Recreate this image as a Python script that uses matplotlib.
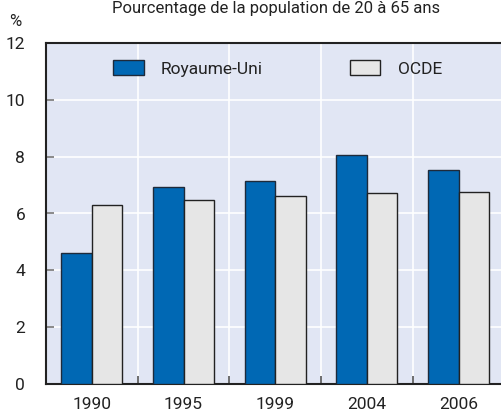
import matplotlib
matplotlib.use("Agg")
import matplotlib.pyplot as plt
import numpy as np

plt.rcParams['font.family'] = ['Roboto', 'DejaVu Sans']

# Data
years = ["1990", "1995", "1999", "2004", "2006"]
royaume_uni = [4.6, 6.93, 7.15, 8.06, 7.53]
ocde = [6.3, 6.47, 6.62, 6.72, 6.76]
y_ticks = [0, 2, 4, 6, 8, 10, 12]

W, H = 501, 411
fig = plt.figure(figsize=(W / 100, H / 100), dpi=100)
# axes extends slightly beyond the right edge, like the original
ax = fig.add_axes([46 / W, 1 - 384 / H, (504.5 - 46) / W, (384 - 43) / H])
ax.set_facecolor("#e1e6f4")

x = np.arange(len(years))
bw = 0.333
ax.bar(x - bw / 2, royaume_uni, bw, color="#0068b4", edgecolor="#1e2a3a",
       linewidth=1.0, label="Royaume-Uni", zorder=3)
ax.bar(x + bw / 2, ocde, bw, color="#e6e6e6", edgecolor="#222222",
       linewidth=1.0, label="OCDE", zorder=3)

ax.set_xlim(-0.5, len(years) - 0.5)
ax.set_ylim(0, 12)
ax.set_yticks(y_ticks)
ax.set_xticks(x)
ax.set_xticklabels(years)
ax.set_xticks(np.arange(len(years) + 1) - 0.5, minor=True)

ax.grid(True, axis="y", color="white", linewidth=1.2, zorder=0)
ax.grid(True, axis="x", which="minor", color="white", linewidth=1.2, zorder=0)
ax.set_axisbelow(True)

ax.tick_params(axis="y", direction="in", length=6, width=1.2, color="#777777",
               labelsize=12.5, pad=15, labelcolor="#222222")
ax.tick_params(axis="x", which="major", length=0, labelsize=12.5, pad=9,
               labelcolor="#222222")
ax.tick_params(axis="x", which="minor", direction="in", length=6, width=1.2,
               color="#555555")

for s in ["left", "bottom", "top"]:
    ax.spines[s].set_linewidth(1.5)
    ax.spines[s].set_color("#222222")
ax.spines["right"].set_visible(False)

leg = ax.legend(loc="upper left", ncol=2, frameon=False, fontsize=12.5,
                bbox_to_anchor=(0.109, 1.0), handlelength=1.75, handleheight=0.9,
                columnspacing=5.0, handletextpad=1.0, borderaxespad=0.6)
for t in leg.get_texts():
    t.set_color("#222222")

fig.text(276 / W, 1 - 8 / H, "Pourcentage de la population de 20 à 65 ans",
         ha="center", va="center", fontsize=12, color="#222222")
fig.text(15 / W, 1 - 22 / H, "%", ha="center", va="center", fontsize=12,
         color="#222222")

fig.savefig("out.png", dpi=100)
